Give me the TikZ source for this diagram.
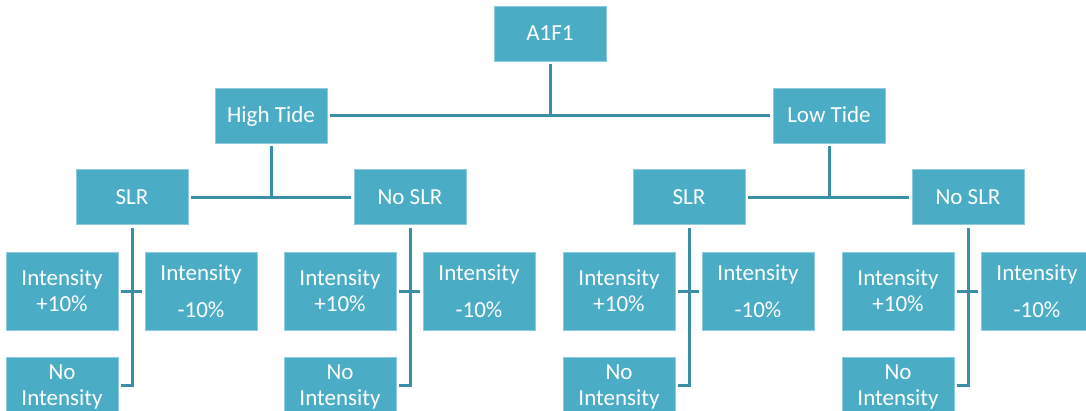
\documentclass[tikz,border=0pt]{standalone}
\usepackage{fontspec}
\setmainfont{Carlito}
\definecolor{boxfill}{HTML}{4BACC6}
\definecolor{boxedge}{HTML}{8ECBDB}
\definecolor{linecol}{HTML}{3A8EA5}
\begin{document}
\begin{tikzpicture}[x=1pt,y=-1pt,
  box/.style={fill=boxfill,draw=boxedge,line width=0.6pt,text=white,inner sep=0pt,outer sep=0pt,
    font=\fontsize{23}{26}\selectfont,align=center},
  one/.style={box,minimum width=112pt,minimum height=55pt,text height=14.8pt,text depth=0pt},
  leaf/.style={box,minimum width=112pt,minimum height=78pt},
  tail/.style={box,minimum width=112pt,minimum height=60pt},
  conn/.style={draw=linecol,line width=3pt}]
\fill[white] (0,0) rectangle (1086,410);
\useasboundingbox (0,0) rectangle (1086,410);
\clip (0,0) rectangle (1086,410);

\node[one] (a1f1) at (550,33.5) {A1F1};
\node[one] (ht) at (271,115.5) {High Tide};
\node[one] (lt) at (829,115.5) {Low Tide};

\node[one] (sa) at (132,197) {SLR};
\node[one] (sb) at (410,197) {No SLR};
\node[one] (sc) at (689,197) {SLR};
\node[one] (sd) at (968,197) {No SLR};

\draw[conn] ([yshift=-3pt]a1f1.south) -- (a1f1.south |- ht.east);
\draw[conn] ([xshift=3pt]ht.east) -- ([xshift=-3pt]lt.west);
\draw[conn] ([yshift=-3pt]ht.south) -- (ht.south |- sa.east);
\draw[conn] ([xshift=3pt]sa.east) -- ([xshift=-3pt]sb.west);
\draw[conn] ([yshift=-3pt]lt.south) -- (lt.south |- sc.east);
\draw[conn] ([xshift=3pt]sc.east) -- ([xshift=-3pt]sd.west);

\foreach \g/\x in {a/132,b/410,c/689,d/968}{
  \node[leaf] (p\g) at (\x-70,291) {Intensity\\+10\%};
  \node[leaf] (m\g) at (\x+69,291) {Intensity\\[11pt]-10\%};
  \node[tail] (n\g) at (\x-70,387) {No\\Intensity};
  \draw[conn] ([yshift=-3pt]s\g.south) -- (s\g.south |- 0,385) -- ([xshift=3pt]n\g.east |- 0,385);
  \draw[conn] ([xshift=3pt]p\g.east) -- ([xshift=-3pt]m\g.west);
}
\end{tikzpicture}
\end{document}
